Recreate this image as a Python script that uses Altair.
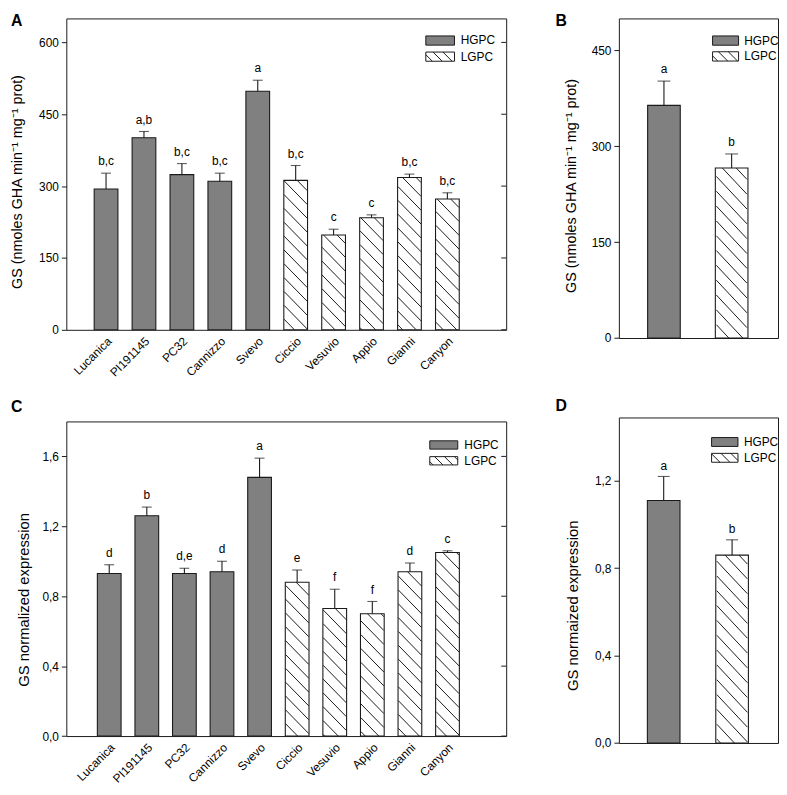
import math
import altair as alt
import pandas as pd

# ---------------- data ----------------
cultivars = ["Lucanica", "PI191145", "PC32", "Cannizzo", "Svevo",
             "Ciccio", "Vesuvio", "Appio", "Gianni", "Canyon"]
cultivar_group = ["HGPC"] * 5 + ["LGPC"] * 5
group_names = ["HGPC", "LGPC"]

gs_activity = [294, 401, 324, 310, 498, 312, 198, 234, 318, 273]
gs_activity_err = [33, 13, 23, 17, 23, 31, 12, 6, 7, 13]
gs_activity_sig = ["b,c", "a,b", "b,c", "b,c", "a", "b,c", "c", "c", "b,c", "b,c"]

group_activity = [364, 266]
group_activity_err = [38, 22]
group_activity_sig = ["a", "b"]

gs_expr = [0.93, 1.26, 0.93, 0.94, 1.48, 0.88, 0.73, 0.70, 0.94, 1.05]
gs_expr_err = [0.05, 0.05, 0.03, 0.06, 0.11, 0.07, 0.11, 0.07, 0.05, 0.01]
gs_expr_sig = ["d", "b", "d,e", "d", "a", "e", "f", "f", "d", "c"]

group_expr = [1.11, 0.86]
group_expr_err = [0.11, 0.07]
group_expr_sig = ["a", "b"]

activity_title = "GS (nmoles GHA min\u207b\u00b9 mg\u207b\u00b9 prot)"

# ---------------- style ----------------
FONT = "Liberation Sans"
GRAY = "#808080"
INK = "#1a1a1a"
FILL_SCALE = alt.Scale(domain=group_names, range=[GRAY, "white"])


def bar_hatch(centers, values, xdom, ymax, width, height, half_px, spacing):
    """Diagonal hatch segments inside bars, returned in data units."""
    pxx = width / (xdom[1] - xdom[0])
    pxy = height / ymax
    rows = []
    for c_i, v in zip(centers, values):
        x0 = (c_i - xdom[0]) * pxx - half_px
        x1 = x0 + 2 * half_px
        yt = (ymax - v) * pxy
        yb = height
        for k in range(math.ceil((yt - x1) / spacing), math.floor((yb - x0) / spacing) + 1):
            c = k * spacing
            xa = max(x0, yt - c)
            xb = min(x1, yb - c)
            if xb - xa < 0.6:
                continue
            rows.append(dict(hx0=xa / pxx + xdom[0], hy0=ymax - (xa + c) / pxy,
                             hx1=xb / pxx + xdom[0], hy1=ymax - (xb + c) / pxy))
    return pd.DataFrame(rows)


def box_hatch(x0, x1, y0, y1, spacing):
    rows = []
    for k in range(math.ceil((y0 - x1) / spacing), math.floor((y1 - x0) / spacing) + 1):
        c = k * spacing + 3
        xa = max(x0, y0 - c)
        xb = min(x1, y1 - c)
        if xb - xa < 0.6:
            continue
        rows.append(dict(gx0=xa, gy0=xa + c, gx1=xb, gy1=xb + c))
    return pd.DataFrame(rows)


def panel(names, grp, vals, errs, sigs, *, width, height, xdom, ymax, yticks,
          decimal, bar_px, cap_px, ytitle, title_pad, title_y, letter, letter_xy,
          legend_box, show_names, right_ticks, sig_gap=8, hatch_sp=14,
          title_size=15):
    idx = list(range(len(names)))
    df = pd.DataFrame({"i": idx, "name": names, "group": grp, "value": vals,
                       "err": errs, "sig": sigs})
    df["top"] = df["value"] + df["err"]
    xs = alt.Scale(domain=xdom, nice=False, zero=False)
    ys = alt.Scale(domain=[0, ymax], nice=False, zero=True)

    xaxis = alt.Axis(labels=False, ticks=False, domain=False, grid=False, title=None)
    ylab = ("replace(format(datum.value, '.1f'), '.', ',')" if decimal
            else "format(datum.value, 'd')")
    yaxis = alt.Axis(values=yticks, labelExpr=ylab, grid=False, domain=False,
                     tickSize=5, tickColor=INK, labelPadding=3, labelFontSize=12,
                     labelColor="black", title=ytitle, titleFontSize=title_size,
                     titleFontWeight="normal", titleColor="black",
                     titlePadding=title_pad, titleY=title_y)

    def X(f):
        return alt.X(f, type="quantitative", scale=xs, axis=xaxis)

    def Y(f):
        return alt.Y(f, type="quantitative", scale=ys, axis=yaxis)

    base = alt.Chart(df)
    fill = base.mark_bar(size=bar_px, strokeWidth=0).encode(
        x=X("i"), y=Y("value"),
        fill=alt.Fill("group:N", scale=FILL_SCALE, legend=None),
    )
    layers = [fill]

    hat = [i for i, g in zip(idx, grp) if g == "LGPC"]
    hdf = bar_hatch(hat, [vals[i] for i in hat], xdom, ymax, width, height,
                    bar_px / 2, hatch_sp)
    layers.append(alt.Chart(hdf).mark_rule(color=INK, strokeWidth=1).encode(
        x=X("hx0"), x2="hx1:Q", y=Y("hy0"), y2="hy1:Q"))

    layers.append(base.mark_bar(size=bar_px, fill="transparent", stroke=INK,
                                strokeWidth=1.1).encode(x=X("i"), y=Y("value")))
    layers.append(base.mark_rule(color=INK, strokeWidth=1.1).encode(
        x=X("i"), y=Y("value"), y2="top:Q"))
    layers.append(base.mark_tick(orient="horizontal", size=cap_px, thickness=1.1,
                                 color=INK).encode(x=X("i"), y=Y("top")))
    layers.append(base.mark_text(baseline="alphabetic", dy=-sig_gap, fontSize=12,
                                 color="black").encode(
        x=X("i"), y=Y("top"), text="sig:N"))

    if show_names:
        layers.append(base.mark_text(angle=315, align="right", baseline="top",
                                     fontSize=12, color="black").encode(
            x=X("i"), y=alt.value(height + 6), text="name:N"))

    if right_ticks:
        layers.append(alt.Chart(pd.DataFrame({"t": yticks})).mark_rule(
            color=INK, strokeWidth=1).encode(
            y=Y("t"), x=alt.value(width - 5), x2=alt.value(width)))

    # legend
    bx0, bx1, by0, bh, bgap, tx = legend_box
    leg = pd.DataFrame({"group": group_names})
    leg["lx0"] = bx0
    leg["lx1"] = bx1
    leg["ly0"] = [by0 + k * bgap for k in range(len(group_names))]
    leg["ly1"] = leg["ly0"] + bh
    leg["tx"] = tx
    leg["ty"] = leg["ly0"] + bh / 2
    layers.append(alt.Chart(leg).mark_rect(stroke=INK, strokeWidth=1).encode(
        x=alt.X("lx0:Q", scale=None), x2="lx1:Q",
        y=alt.Y("ly0:Q", scale=None), y2="ly1:Q",
        fill=alt.Fill("group:N", scale=FILL_SCALE, legend=None)))
    lrow = leg[leg["group"] == "LGPC"].iloc[0]
    lh = box_hatch(bx0, bx1, lrow["ly0"], lrow["ly1"], 10)
    layers.append(alt.Chart(lh).mark_rule(color=INK, strokeWidth=1).encode(
        x=alt.X("gx0:Q", scale=None), x2="gx1:Q",
        y=alt.Y("gy0:Q", scale=None), y2="gy1:Q"))
    layers.append(alt.Chart(leg).mark_text(align="left", baseline="middle",
                                           fontSize=12, color="black").encode(
        x=alt.X("tx:Q", scale=None), y=alt.Y("ty:Q", scale=None), text="group:N"))

    layers.append(alt.Chart(pd.DataFrame({"L": [letter]})).mark_text(
        align="left", baseline="top", fontSize=16, fontWeight="bold",
        color="black").encode(x=alt.value(letter_xy[0]), y=alt.value(letter_xy[1]),
                              text="L:N"))

    return alt.layer(*layers).properties(width=width, height=height)


A = panel(cultivars, cultivar_group, gs_activity, gs_activity_err, gs_activity_sig,
          width=445, height=315, xdom=[-0.917, 10.42], ymax=650,
          yticks=[0, 150, 300, 450, 600], decimal=False, bar_px=24, cap_px=10,
          ytitle=activity_title, title_pad=14.5, title_y=165, letter="A",
          letter_xy=(-56, -5), legend_box=(363.7, 392.7, 17.7, 9.3, 16.3, 399),
          show_names=True, right_ticks=True, title_size=14.5)

C = panel(cultivars, cultivar_group, gs_expr, gs_expr_err, gs_expr_sig,
          width=445, height=318.3, xdom=[-1.01, 10.43], ymax=1.8,
          yticks=[0, 0.4, 0.8, 1.2, 1.6], decimal=True, bar_px=24, cap_px=10,
          ytitle="GS normalized expression", title_pad=10.5, title_y=180,
          letter="C", letter_xy=(-56, -23),
          legend_box=(367.7, 396, 19.6, 8.4, 16, 402.7),
          show_names=True, right_ticks=True)

B = panel(group_names, group_names, group_activity, group_activity_err,
          group_activity_sig, width=161, height=323.3, xdom=[-0.593, 1.612],
          ymax=500, yticks=[0, 150, 300, 450], decimal=False, bar_px=33, cap_px=13,
          ytitle=activity_title, title_pad=13, title_y=169, letter="B",
          letter_xy=(-64, -5), legend_box=(94.8, 121.1, 17.7, 9.4, 16, 126.8),
          show_names=False, right_ticks=False, hatch_sp=15, title_size=14.5)

D = panel(group_names, group_names, group_expr, group_expr_err, group_expr_sig,
          width=161, height=329.3, xdom=[-0.583, 1.599], ymax=1.49,
          yticks=[0, 0.4, 0.8, 1.2], decimal=True, bar_px=33, cap_px=12,
          ytitle="GS normaized expression", title_pad=14, title_y=190, letter="D",
          letter_xy=(-64, -20), legend_box=(93.8, 120.5, 20.3, 9, 16, 126.5),
          show_names=False, right_ticks=False, sig_gap=7, hatch_sp=15)

chart = alt.hconcat(
    alt.vconcat(A, C, spacing=92.7, bounds="flush"),
    alt.vconcat(B, D, spacing=79.7, bounds="flush"),
    spacing=48, bounds="full",
).properties(
    padding={"left": 0, "top": 0, "right": 0, "bottom": 0}
).configure(font=FONT).configure_view(stroke=INK, strokeWidth=1)

chart.save("out.html", embed_options={"renderer": "svg", "actions": False})
